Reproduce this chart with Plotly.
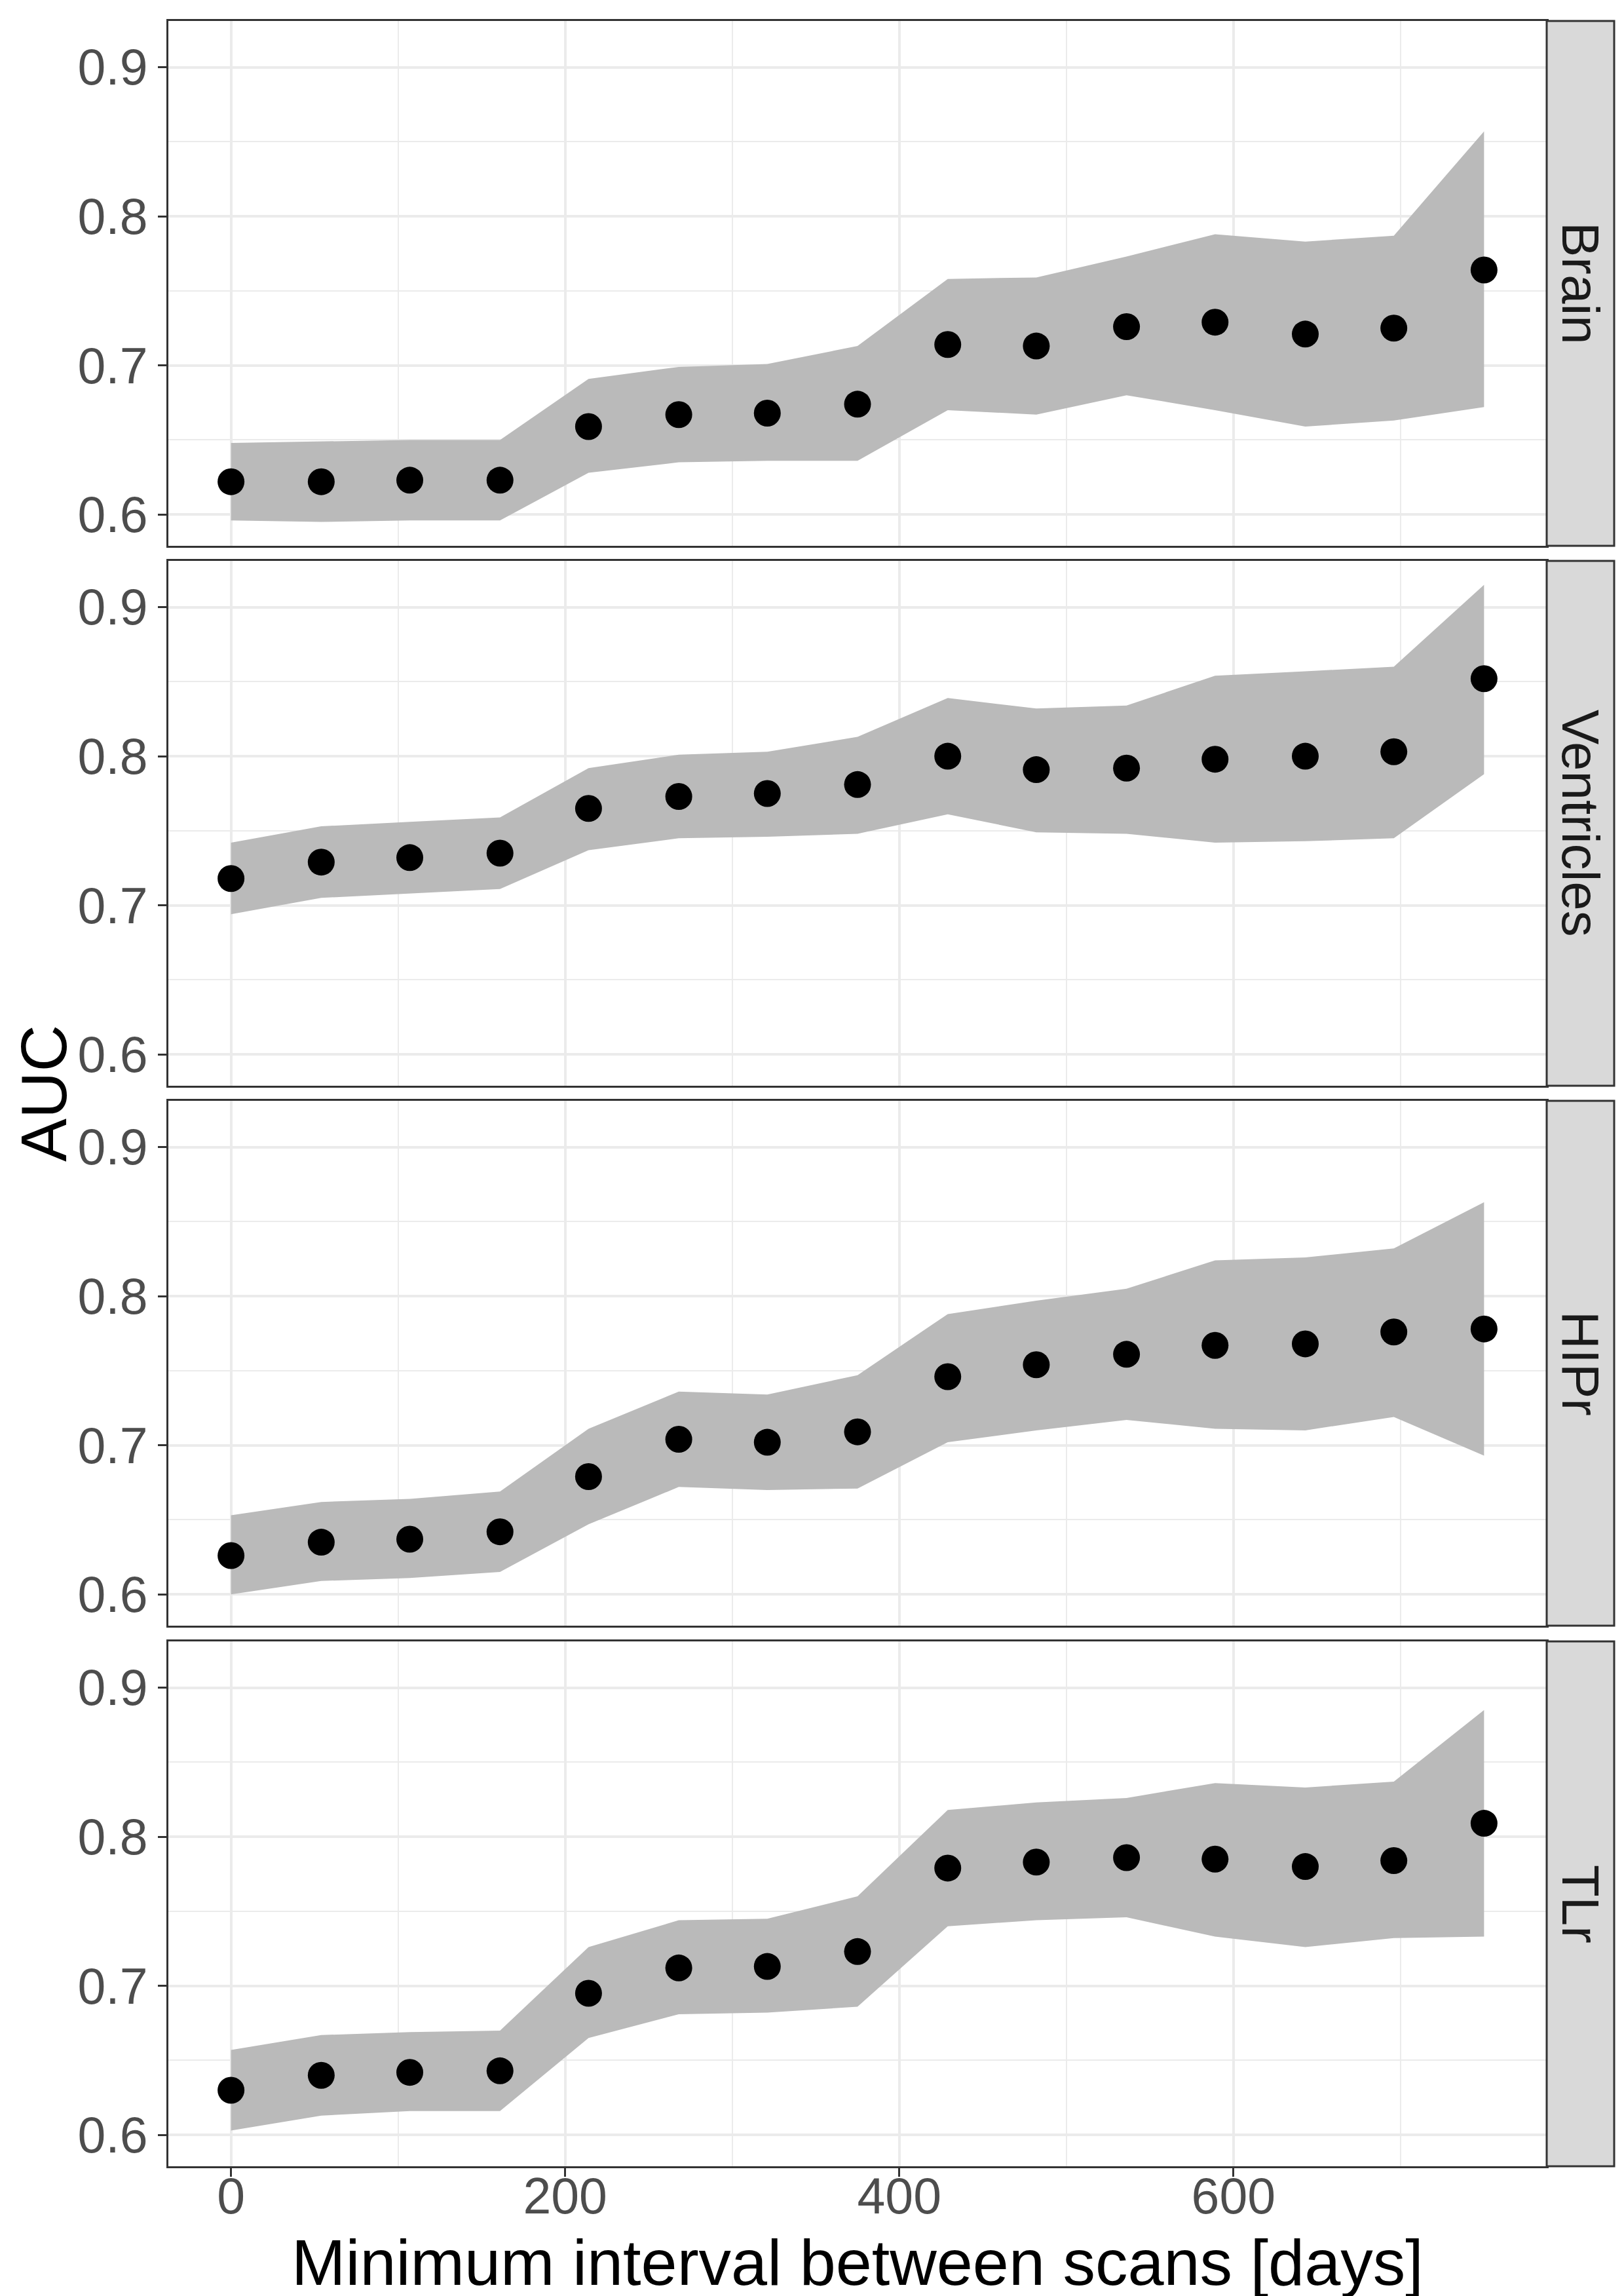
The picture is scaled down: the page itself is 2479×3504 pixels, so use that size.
import plotly.graph_objects as go

# ---------------- data ----------------
days = [0, 54, 107, 161, 214, 268, 321, 375, 429, 482, 536, 589, 643, 696, 750]
regions = ["Brain", "Ventricles", "HIPr", "TLr"]

auc_brain = [0.622, 0.622, 0.623, 0.623, 0.659, 0.667, 0.668, 0.674, 0.714, 0.713, 0.726, 0.729, 0.721, 0.725, 0.764]
hi_brain = [0.648, 0.649, 0.650, 0.650, 0.691, 0.699, 0.701, 0.713, 0.758, 0.759, 0.773, 0.788, 0.783, 0.787, 0.857]
lo_brain = [0.596, 0.595, 0.596, 0.596, 0.628, 0.635, 0.636, 0.636, 0.670, 0.667, 0.680, 0.670, 0.659, 0.663, 0.672]

auc_vent = [0.718, 0.729, 0.732, 0.735, 0.765, 0.773, 0.775, 0.781, 0.800, 0.791, 0.792, 0.798, 0.800, 0.803, 0.852]
hi_vent = [0.742, 0.753, 0.756, 0.759, 0.792, 0.801, 0.803, 0.813, 0.839, 0.832, 0.834, 0.854, 0.857, 0.860, 0.915]
lo_vent = [0.694, 0.705, 0.708, 0.711, 0.737, 0.745, 0.746, 0.748, 0.761, 0.749, 0.748, 0.742, 0.743, 0.745, 0.788]

auc_hipr = [0.626, 0.635, 0.637, 0.642, 0.679, 0.704, 0.702, 0.709, 0.746, 0.754, 0.761, 0.767, 0.768, 0.776, 0.778]
hi_hipr = [0.653, 0.662, 0.664, 0.669, 0.711, 0.736, 0.734, 0.747, 0.788, 0.797, 0.805, 0.824, 0.826, 0.832, 0.863]
lo_hipr = [0.600, 0.609, 0.611, 0.615, 0.647, 0.672, 0.670, 0.671, 0.702, 0.710, 0.717, 0.711, 0.710, 0.719, 0.693]

auc_tlr = [0.630, 0.640, 0.642, 0.643, 0.695, 0.712, 0.713, 0.723, 0.779, 0.783, 0.786, 0.785, 0.780, 0.784, 0.809]
hi_tlr = [0.657, 0.667, 0.669, 0.670, 0.726, 0.744, 0.745, 0.760, 0.818, 0.823, 0.826, 0.836, 0.833, 0.837, 0.885]
lo_tlr = [0.603, 0.613, 0.616, 0.616, 0.665, 0.681, 0.682, 0.686, 0.740, 0.744, 0.746, 0.733, 0.726, 0.732, 0.733]

auc_all = [auc_brain, auc_vent, auc_hipr, auc_tlr]
hi_all = [hi_brain, hi_vent, hi_hipr, hi_tlr]
lo_all = [lo_brain, lo_vent, lo_hipr, lo_tlr]

x_ticks = [0, 200, 400, 600]
y_ticks = [0.6, 0.7, 0.8, 0.9]

# ---------------- layout geometry (pixels) ----------------
W, H = 2479, 3504
px_left, px_right, strip_right = 249, 2353, 2456
panel_tops = [24, 848, 1672, 2497]
panel_h = 801

FONT = "Liberation Sans, Arial, Helvetica, sans-serif"
BORDER = "#333333"
GRID = "#EBEBEB"

fig = go.Figure()

for i, name in enumerate(regions):
    sfx = "" if i == 0 else str(i + 1)
    xa, ya = "x" + sfx, "y" + sfx
    fig.add_trace(go.Scatter(
        x=days + days[::-1], y=hi_all[i] + lo_all[i][::-1],
        fill="toself", fillcolor="#BABABA", mode="lines",
        line=dict(width=0, color="#BABABA"), hoverinfo="skip",
        showlegend=False, xaxis=xa, yaxis=ya))
    fig.add_trace(go.Scatter(
        x=days, y=auc_all[i], mode="markers",
        marker=dict(size=41, color="black", line=dict(width=0)),
        showlegend=False, xaxis=xa, yaxis=ya))

layout = dict(
    width=W, height=H,
    margin=dict(l=0, r=0, t=0, b=0),
    paper_bgcolor="white", plot_bgcolor="white",
    font=dict(family=FONT, color="#4D4D4D", size=77),
    showlegend=False,
)

shapes = []
annotations = []
xd = [px_left / W, px_right / W]
for i, name in enumerate(regions):
    sfx = "" if i == 0 else str(i + 1)
    top = panel_tops[i]
    bot = top + panel_h
    yd = [1 - bot / H, 1 - top / H]
    last = (i == len(regions) - 1)
    layout["xaxis" + sfx] = dict(
        domain=xd, anchor="y" + sfx, range=[-37.5, 787.5],
        tickvals=x_ticks, showticklabels=last,
        ticks="outside" if last else "", ticklen=13, tickwidth=3, tickcolor=BORDER,
        ticklabelstandoff=-36,
        tickfont=dict(size=77, color="#4D4D4D", family=FONT),
        showgrid=True, gridcolor=GRID, gridwidth=4.3,
        minor=dict(tickvals=[100, 300, 500, 700], showgrid=True, gridcolor=GRID, gridwidth=2.2, ticks=""),
        showline=True, mirror=True, linecolor=BORDER, linewidth=3,
        zeroline=False, fixedrange=True,
    )
    layout["yaxis" + sfx] = dict(
        domain=yd, anchor="x" + sfx, range=[0.579, 0.931],
        tickvals=y_ticks, ticktext=["%.1f" % v for v in y_ticks],
        ticks="outside", ticklen=13, tickwidth=3, tickcolor=BORDER,
        tickfont=dict(size=77, color="#4D4D4D", family=FONT),
        showgrid=True, gridcolor=GRID, gridwidth=4.3,
        minor=dict(tickvals=[0.65, 0.75, 0.85], showgrid=True, gridcolor=GRID, gridwidth=2.2, ticks=""),
        showline=True, mirror=True, linecolor=BORDER, linewidth=3,
        zeroline=False, fixedrange=True,
    )
    shapes.append(dict(type="rect", xref="paper", yref="paper",
                       x0=px_right / W, x1=strip_right / W, y0=yd[0], y1=yd[1],
                       fillcolor="#D9D9D9", line=dict(color=BORDER, width=3), layer="above"))
    annotations.append(dict(text=name, xref="paper", yref="paper",
                            x=(px_right + strip_right) / 2 / W, y=(yd[0] + yd[1]) / 2,
                            showarrow=False, textangle=90,
                            font=dict(size=80, color="#1A1A1A", family=FONT),
                            xanchor="center", yanchor="middle"))

# axis titles
annotations.append(dict(text="Minimum interval between scans [days]", xref="paper", yref="paper",
                        x=(px_left + px_right) / 2 / W, y=1 - 3444 / H, showarrow=False,
                        font=dict(size=99, color="black", family=FONT),
                        xanchor="center", yanchor="middle"))
annotations.append(dict(text="AUC", xref="paper", yref="paper",
                        x=58 / W, y=1 - ((panel_tops[0] + panel_tops[-1] + panel_h) / 2) / H,
                        showarrow=False, textangle=-90,
                        font=dict(size=99, color="black", family=FONT),
                        xanchor="center", yanchor="middle"))

layout["shapes"] = shapes
layout["annotations"] = annotations
fig.update_layout(**layout)

fig.write_html("out.html")
